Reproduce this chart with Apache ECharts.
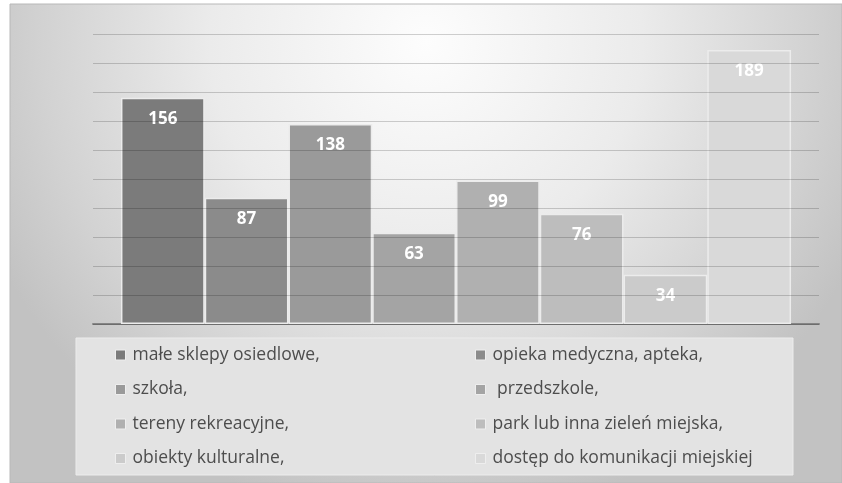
<!DOCTYPE html>
<html>
<head>
<meta charset="utf-8">
<script src="https://cdn.jsdelivr.net/npm/echarts@6/dist/echarts.min.js"></script>
<style>html,body{margin:0;padding:0;background:#fff;}#c{width:842px;height:483px;}</style>
</head>
<body>
<div id="c"></div>
<script>
const seriesNames = [
  'małe sklepy osiedlowe,',
  'opieka medyczna, apteka,',
  'szkoła,',
  ' przedszkole,',
  'tereny rekreacyjne,',
  'park lub inna zieleń miejska,',
  'obiekty kulturalne,',
  'dostęp do komunikacji miejskiej'
];
const seriesValues = [156, 87, 138, 63, 99, 76, 34, 189];
const seriesColors = ['#7b7b7b', '#8b8b8b', '#9a9a9a', '#a4a4a4', '#b0b0b0', '#bdbdbd', '#cbcbcb', '#d9d9d9'];
const categories = [''];
const yMin = 0, yMax = 200, yInterval = 20;

const chart = echarts.init(document.getElementById('c'));
const font = '"Open Sans", "Noto Sans", sans-serif';

const series = seriesNames.map((name, i) => ({
  name: name,
  type: 'bar',
  data: [seriesValues[i]],
  barGap: '0%',
  barCategoryGap: '7.7%',
  itemStyle: { color: seriesColors[i], borderColor: '#ececec', borderWidth: 1.5 },
  label: {
    show: true,
    position: 'insideTop',
    distance: 13,
    color: '#ffffff',
    fontFamily: font,
    fontWeight: 'bold',
    fontSize: 17
  }
}));

const legendBase = {
  orient: 'vertical',
  icon: 'rect',
  padding: 0,
  itemWidth: 10,
  itemHeight: 10,
  itemGap: 14.5,
  top: 345,
  selectedMode: false,
  itemStyle: { borderColor: '#eeeeee', borderWidth: 1 },
  textStyle: { fontFamily: font, fontSize: 17.5, lineHeight: 20, color: '#4d4d4d', padding: [0, 0, 0, 2] }
};

chart.setOption({
  animation: false,
  graphic: [
    {
      type: 'rect', z: -10, silent: true,
      shape: { x: 10, y: 4, width: 832, height: 479 },
      style: {
        fill: { type: 'radial', x: 0.5, y: 0.08, r: 1.0, colorStops: [
          { offset: 0, color: '#fdfdfd' },
          { offset: 0.45, color: '#ebebeb' },
          { offset: 0.8, color: '#d2d2d2' },
          { offset: 1, color: '#c2c2c2' }
        ] },
        stroke: '#b8b8b8', lineWidth: 1
      }
    },
    {
      type: 'rect', z: -9, silent: true,
      shape: { x: 76, y: 338, width: 717, height: 137 },
      style: { fill: '#e3e3e3', stroke: '#ececec', lineWidth: 1 }
    }
  ],
  grid: { left: 93, right: 23, top: 34, bottom: 159, containLabel: false },
  xAxis: {
    type: 'category',
    data: categories,
    axisLine: { show: true, lineStyle: { color: '#858585', width: 2 } },
    axisTick: { show: false },
    axisLabel: { show: false }
  },
  yAxis: {
    type: 'value',
    min: yMin, max: yMax, interval: yInterval,
    z: 5,
    axisLine: { show: false },
    axisTick: { show: false },
    axisLabel: { show: false },
    splitLine: { show: true, lineStyle: { color: 'rgba(0,0,0,0.18)', width: 1.2 } }
  },
  legend: [
    Object.assign({}, legendBase, { left: 115, data: [seriesNames[0], seriesNames[2], seriesNames[4], seriesNames[6]] }),
    Object.assign({}, legendBase, { left: 475, data: [seriesNames[1], seriesNames[3], seriesNames[5], seriesNames[7]] })
  ],
  series: series
});
</script>
</body>
</html>
